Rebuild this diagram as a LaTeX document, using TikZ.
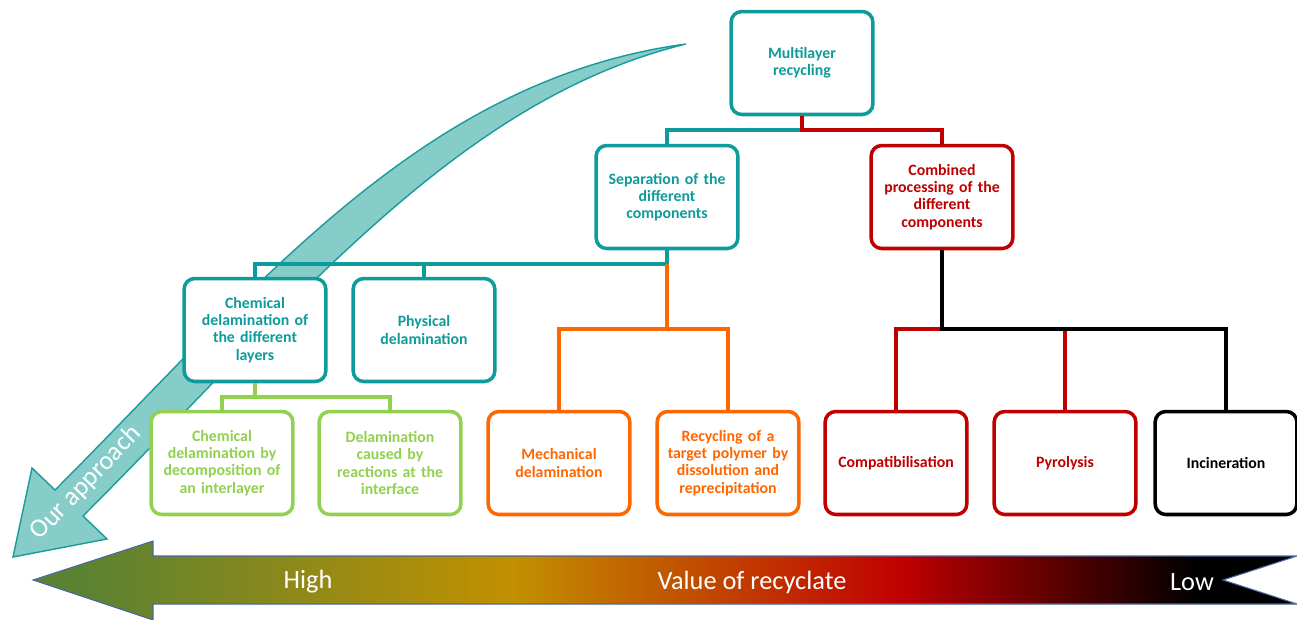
\documentclass[tikz,border=0pt]{standalone}
\usepackage{fontspec}
\setmainfont{Carlito}
\definecolor{tealc}{HTML}{0E9B9B}
\definecolor{redc}{HTML}{C00000}
\definecolor{greenc}{HTML}{92D050}
\definecolor{orangec}{HTML}{FF6600}
\definecolor{bandfill}{HTML}{86CDCA}
\definecolor{bandline}{HTML}{1A9A9A}
\definecolor{arrowline}{HTML}{4A68A6}
\definecolor{greenstart}{HTML}{5B8232}
\definecolor{goldc}{HTML}{C29000}
\pgfdeclarehorizontalshading{valueshade}{100bp}{color(0bp)=(greenstart); color(27bp)=(greenstart); color(44bp)=(goldc); color(59.3bp)=(redc); color(71bp)=(black); color(100bp)=(black)}
\tikzset{
  box/.style={draw, line width=2pt, rounded corners=6pt, fill=white,
    minimum width=2.68cm, minimum height=2.06cm, text width=2.6cm, align=center,
    font=\bfseries\fontsize{9}{9.8}\selectfont},
  tealbox/.style={box, draw=tealc, text=tealc},
  redbox/.style={box, draw=redc, text=redc},
  greenbox/.style={box, draw=greenc, text=greenc},
  orangebox/.style={box, draw=orangec, text=orangec},
  blackbox/.style={box, draw=black, text=black},
  conn/.style={line width=2pt},
  scale label/.style={text=white, font=\fontsize{15}{17}\selectfont}
}
\begin{document}
\begin{tikzpicture}[x=0.02cm, y=-0.02cm]
\useasboundingbox (0,0) rectangle (1297,619);

% curved arrow
\filldraw[fill=bandfill, draw=bandline, line width=0.8pt]
  (686,44) .. controls (420,80) and (255,290) .. (55,490) -- (32,468) -- (13,557)
  -- (107,539) -- (83,516) .. controls (293,306) and (456,100) .. (686,44) -- cycle;
\node(approach) at (86,483)[rotate=46, scale label]{Our approach};

% value arrow
\shadedraw[shading=valueshade, draw=arrowline, line width=0.6pt]
  (33,580) -- (153,541) -- (153,556) -- (1297,556) -- (1223,580)
  -- (1297,604) -- (153,604) -- (153,620) -- cycle;
\node(high) at (308,582)[scale label]{High};
\node(value) at (752,582)[scale label]{Value of recyclate};
\node(low) at (1192,582)[scale label]{Low};

\coordinate(mlbar) at (802,130);
\coordinate(sepbar) at (667,264);
\coordinate(mechbar) at (667,329);
\coordinate(chembar) at (255,397);
\coordinate(combbar) at (942,329);

\node(ml) at (802,63)[tealbox]         {Multilayer\\recycling};
\node(sep) at (667,197)[tealbox]       {Separation of the\\different\\components};
\node(comb) at (942,197)[redbox]       {Combined\\processing of the\\different\\components};
\node(chem) at (255,330)[tealbox]      {Chemical\\delamination of\\the different\\layers};
\node(phys) at (424,330)[tealbox]      {Physical\\delamination};
\node(decomp) at (222,463)[greenbox]   {Chemical\\delamination by\\decomposition of\\an interlayer};
\node(react) at (390,463)[greenbox]    {Delamination\\caused by\\reactions at the\\interface};
\node(mech) at (559,463)[orangebox]    {Mechanical\\delamination};
\node(recyc) at (728,463)[orangebox]   {Recycling of a\\target polymer by\\dissolution and\\reprecipitation};
\node(compat) at (896,463)[redbox]     {Compatibilisation};
\node(pyro) at (1065,463)[redbox]      {Pyrolysis};
\node(incin) at (1226,463)[blackbox]   {Incineration};

\draw[conn, tealc] (ml.south) -- (mlbar) -| (sep.north);
\draw[conn, redc] (ml.south) -- (mlbar) -| (comb.north);
\draw[conn, tealc] (sep.south) -- (sepbar) -| (chem.north);
\draw[conn, tealc] (sepbar) -| (phys.north);
\draw[conn, orangec] (sepbar) -- (mechbar) -| (mech.north);
\draw[conn, orangec] (mechbar) -| (recyc.north);
\draw[conn, greenc] (chem.south) -- (chembar) -| (decomp.north);
\draw[conn, greenc] (chembar) -| (react.north);
\draw[conn, redc] (combbar) -| (compat.north);
\draw[conn, redc] (pyro.north) -- (pyro.north |- combbar);
\draw[conn, black] (comb.south) -- (combbar) -| (incin.north);

\end{tikzpicture}
\end{document}
